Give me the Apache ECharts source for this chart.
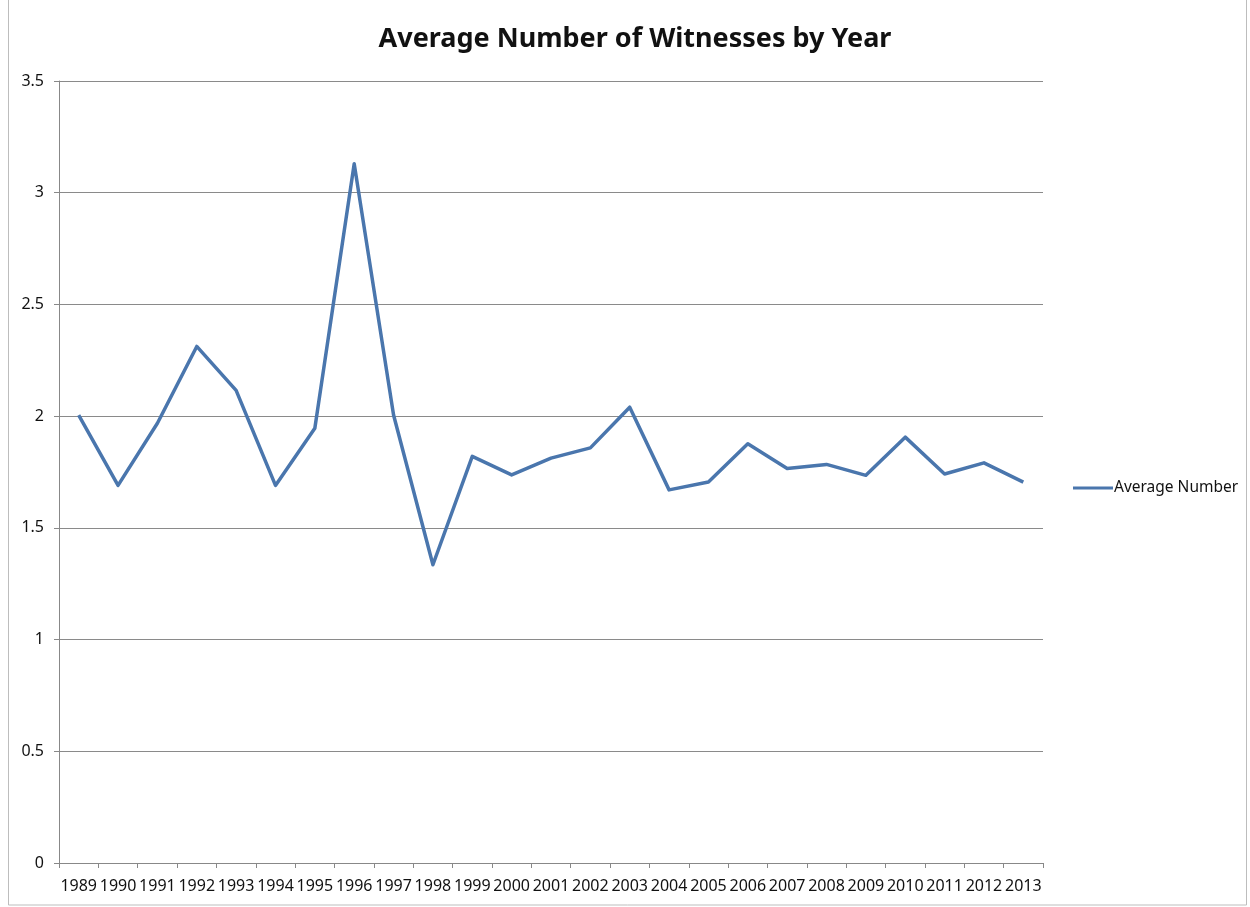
<!DOCTYPE html>
<html>
<head>
<meta charset="utf-8">
<script src="https://cdn.jsdelivr.net/npm/echarts@6/dist/echarts.min.js"></script>
<style>
  html, body { margin: 0; padding: 0; background: #fff; }
  #chart { width: 1250px; height: 907px; }
</style>
</head>
<body>
<div id="chart"></div>
<script>
// Years on the category axis
const years = ['1989','1990','1991','1992','1993','1994','1995','1996','1997','1998','1999','2000','2001',
               '2002','2003','2004','2005','2006','2007','2008','2009','2010','2011','2012','2013'];
// Average number of witnesses per year
const averageNumber = [2.005, 1.69, 1.968, 2.312, 2.115, 1.69, 1.946, 3.13, 2.005, 1.335, 1.82, 1.737, 1.812,
                       1.858, 2.04, 1.67, 1.705, 1.876, 1.766, 1.784, 1.735, 1.906, 1.741, 1.791, 1.705];
const seriesName = 'Average Number';
const chartTitle = 'Average Number of Witnesses by Year';

const FONT = '"Noto Sans", "Open Sans", sans-serif';
const chart = echarts.init(document.getElementById('chart'), null, { renderer: 'canvas' });

chart.setOption({
  backgroundColor: '#ffffff',
  animation: false,
  title: {
    text: chartTitle,
    left: 630,
    top: 21,
    textAlign: 'center',
    textStyle: { fontFamily: FONT, fontWeight: 'bold', fontSize: 27, color: '#111' }
  },
  legend: {
    left: 1068,
    top: 475,
    orient: 'vertical',
    itemWidth: 40,
    itemHeight: 3,
    itemGap: 4,
    icon: 'rect',
    textStyle: { fontFamily: FONT, fontSize: 15.5, color: '#111', padding: [0, 0, 0, -4] },
    data: [seriesName]
  },
  grid: { left: 59, right: 207, top: 81, bottom: 44, containLabel: false },
  xAxis: {
    type: 'category',
    data: years,
    boundaryGap: true,
    axisLine: { lineStyle: { color: '#888', width: 1 } },
    axisTick: { show: true, length: 5, lineStyle: { color: '#888' } },
    axisLabel: { interval: 0, margin: 15, fontFamily: FONT, fontSize: 16, color: '#111' }
  },
  yAxis: {
    type: 'value',
    min: 0,
    max: 3.5,
    interval: 0.5,
    axisLine: { show: true, lineStyle: { color: '#888', width: 1 } },
    axisTick: { show: true, length: 5, lineStyle: { color: '#888' } },
    splitLine: { lineStyle: { color: '#8a8a8a', width: 1 } },
    axisLabel: { margin: 15, fontFamily: FONT, fontSize: 16, color: '#111' }
  },
  series: [{
    name: seriesName,
    type: 'line',
    data: averageNumber,
    symbol: 'none',
    lineStyle: { color: '#4a76ad', width: 3.5, join: 'round' },
    itemStyle: { color: '#4a76ad' }
  }],
  graphic: [{
    type: 'rect',
    shape: { x: 8.5, y: -1, width: 1238, height: 906 },
    style: { fill: 'none', stroke: '#bdbdbd', lineWidth: 1 },
    silent: true
  }]
});
</script>
</body>
</html>
